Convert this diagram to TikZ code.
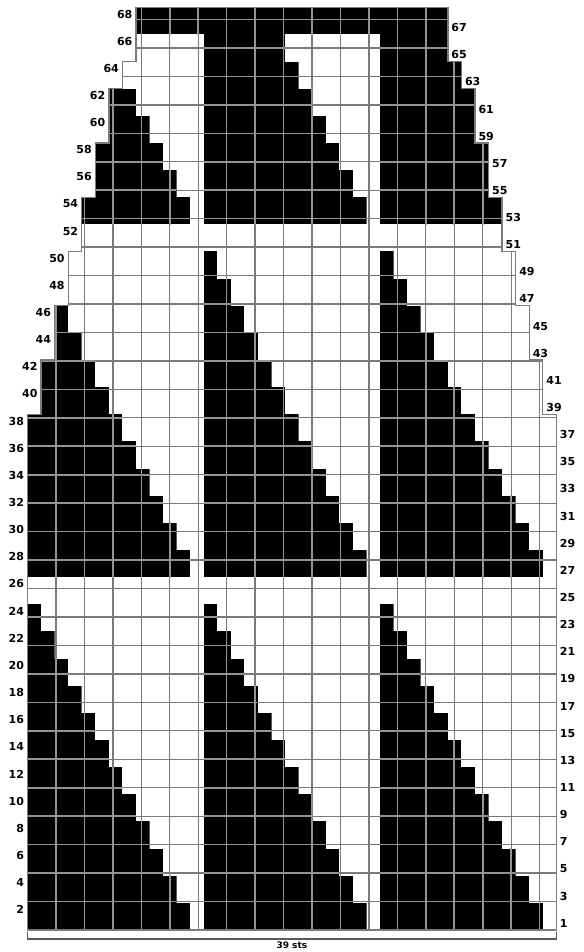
\documentclass[tikz,border=0pt]{standalone}
\usepackage{fontspec}
\newfontfamily\chartfont{DejaVu Sans}
\usetikzlibrary{positioning,calc}
\newcommand{\chartoutline}{%
  (0,0) -- (39,0) -- (39,38) -- (38,38) -- (38,42) -- (37,42) -- (37,46) -- (36,46) -- (36,50)
  -- (35,50) -- (35,54) -- (34,54) -- (34,58) -- (33,58) -- (33,62) -- (32,62) -- (32,64)
  -- (31,64) -- (31,68) -- (8,68) -- (8,64) -- (7,64) -- (7,62) -- (6,62) -- (6,58) -- (5,58)
  -- (5,54) -- (4,54) -- (4,50) -- (3,50) -- (3,46) -- (2,46) -- (2,42) -- (1,42) -- (1,38)
  -- (0,38) -- cycle}
% a run of dark stitches, with its own lighter grid
\newcommand{\darkrun}[4]{%
  \begin{scope}
    \clip (#1,#2) rectangle ++(#3,#4);
    \fill[black] (#1,#2) rectangle ++(#3,#4);
    \draw[darkgrid] (#1-1,#2-1) grid ++(#3+2,#4+2);
  \end{scope}}

\begin{document}
\begin{tikzpicture}[x=13.56pt, y=13.57pt,
        gridline/.style={draw=black!52, line width=1.3pt},
        darkgrid/.style={draw=black!42, line width=1.6pt},
        bracket/.style={draw=black!65, line width=1.6pt},
        rowno/.style={font=\chartfont\bfseries\fontsize{11}{13}\selectfont, inner sep=0pt}]
    \useasboundingbox (-27.5pt,-22pt) rectangle ++(583pt,952pt);
    \begin{scope}
        \clip \chartoutline;
        \fill[white] \chartoutline;
        \draw[gridline] (0,0) grid (39,68);
        \foreach \base/\kmax in {0/11,26/11,52/6}
            \foreach \k in {0,...,\kmax}
                \foreach \b in {0,13,26}
                    \darkrun{\b}{\base+2*\k}{12-\k}{2};
        \darkrun{0}{66}{39}{2};
    \end{scope}
    \draw[gridline] \chartoutline;
    % row numbers, even on the left, odd on the right
    \foreach \ra/\rb/\lx/\rx in {1/38/0/39,39/42/1/38,43/46/2/37,47/50/3/36,51/54/4/35,55/58/5/34,59/62/6/33,63/64/7/32,65/68/8/31}
        \foreach \r in {\ra,...,\rb}{
            \ifodd\r\relax
                \node[rowno, anchor=west] (r\r) at (\rx+0.25,\r-0.5) {\r};
            \else
                \node[rowno, anchor=east] (r\r) at (\lx-0.25,\r-0.5) {\r};
            \fi
        }
    \coordinate (tl) at (0,-0.15);
    \coordinate (tr) at (39,-0.15);
    \coordinate (bl) at (0,-0.66);
    \coordinate (br) at (39,-0.66);
    \draw[bracket] (tl) -- (bl) -- (br) -- (tr);
    \node[rowno, font=\chartfont\bfseries\fontsize{9}{10}\selectfont, anchor=north] (sts) at ($(bl)!0.5!(br)+(0,-0.2)$) {39 sts};
\end{tikzpicture}
\end{document}
